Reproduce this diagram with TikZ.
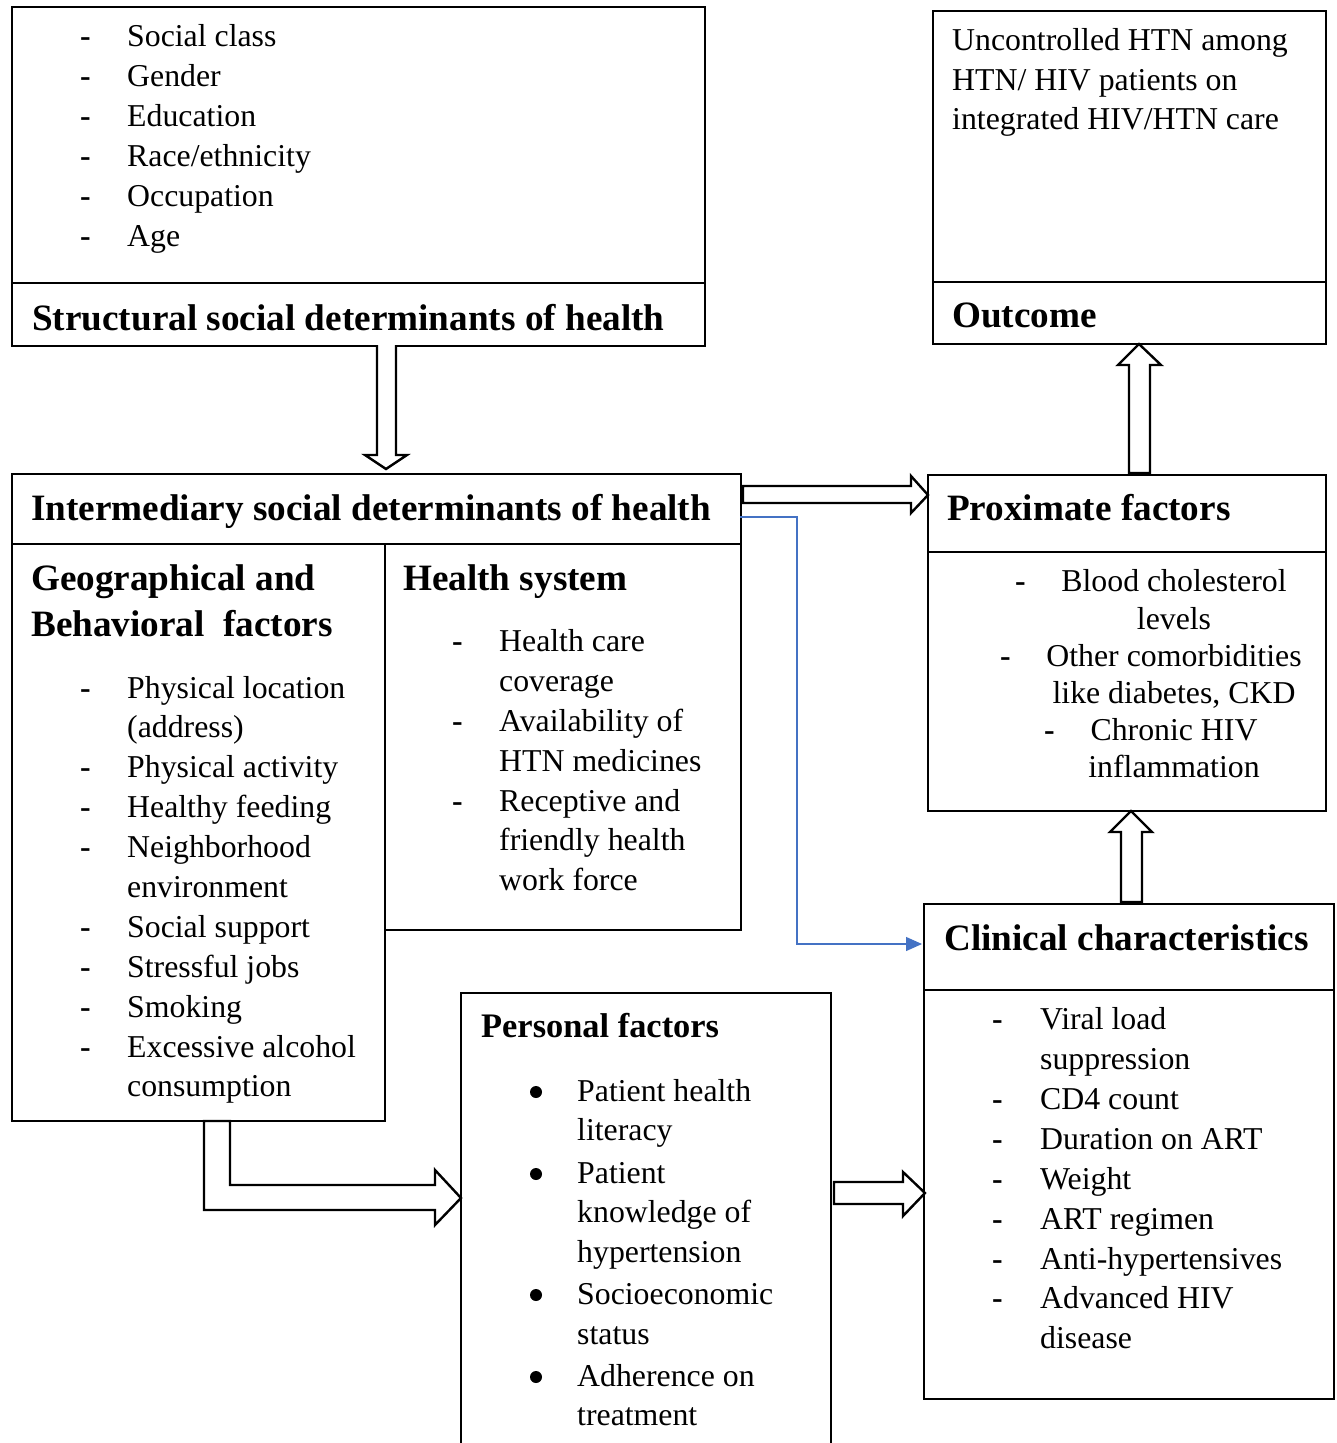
\documentclass[tikz,border=0pt]{standalone}
\usepackage{fontspec}
\setmainfont{Liberation Serif}
\usetikzlibrary{arrows.meta}
\newcommand\bodyf{\fontsize{31.8}{40}\selectfont}
\newcommand\hdf{\fontsize{37.2}{44}\selectfont\bfseries}
\newcommand\hdsf{\fontsize{34.4}{40}\selectfont\bfseries}
\newcommand\dashmark{\textbf{-}}
\definecolor{conblue}{HTML}{4472C4}
\begin{document}
\begin{tikzpicture}[x=1pt,y=-1pt,
  boxsty/.style={draw, line width=1.5pt, rectangle, inner sep=0pt, anchor=north west},
  itm/.style={anchor=base west, inner sep=0pt, font=\bodyf},
  itmc/.style={anchor=base, inner sep=0pt, font=\bodyf},
  hdr/.style={anchor=base west, inner sep=0pt, font=\hdf},
  fatarrow/.style={draw, line width=2.4pt, line join=miter, fill=white},
  divider/.style={line width=1.5pt}
]
\useasboundingbox (0,0) rectangle (1337,1443);

% ---------- boxes ----------
\node[boxsty, minimum width=693pt, minimum height=339pt] (struct) at (11,6) {};
\draw[divider, line width=2pt] (11,283) -- (704,283);
\node[boxsty, minimum width=393pt, minimum height=333pt] (outc) at (932,10) {};
\draw[divider] (932,282) -- (1325,282);
\node[boxsty, minimum width=729pt, minimum height=70pt] (inter) at (11,473) {};
\node[boxsty, minimum width=373pt, minimum height=577pt] (geo) at (11,543) {};
\node[boxsty, minimum width=356pt, minimum height=386pt] (hs) at (384,543) {};
\node[boxsty, minimum width=398pt, minimum height=336pt] (prox) at (927,474) {};
\draw[divider] (927,552) -- (1325,552);
\node[boxsty, minimum width=410pt, minimum height=495pt] (clin) at (923,903) {};
\draw[divider] (923,990) -- (1333,990);
\draw[line width=1.5pt] (461,1443) -- (461,993) -- (831,993) -- (831,1443);
\coordinate (pers) at (646,993);

% ---------- headers ----------
\node[hdr] (hstruct) at (32,330) {Structural social determinants of health};
\node[hdr] (houtc) at (952,327) {Outcome};
\node[hdr] (hinter) at (31,520) {Intermediary social determinants of health};
\node[hdr] (hgeo1) at (31,590) {Geographical and};
\node[hdr] (hgeo2) at (31,636) {Behavioral\ \ factors};
\node[hdr] (hhs) at (403,590) {Health system};
\node[hdr] (hprox) at (947,520) {Proximate factors};
\node[hdr] (hclin) at (944,950) {Clinical characteristics};
\node[anchor=base west, inner sep=0pt, font=\hdsf] (hpers) at (481,1037) {Personal factors};

% ---------- outcome text ----------
\node[itm] (o1) at (952,50) {Uncontrolled HTN among};
\node[itm] (o2) at (952,90) {HTN/ HIV patients on};
\node[itm] (o3) at (952,129) {integrated HIV/HTN care};

% ---------- structural items ----------
\foreach \t [count=\i] in {Social class, Gender, Education, Race/ethnicity, Occupation, Age}{
  \node[itm] (sd\i) at (80,6+40*\i) {\dashmark};
  \node[itm] (s\i) at (127,6+40*\i) {\t};
}

% ---------- geographical items ----------
\foreach \y/\t/\d [count=\i] in {698/Physical location/1, 737/(address)/0, 777/Physical activity/1,
  817/Healthy feeding/1, 857/Neighborhood/1, 897/environment/0, 937/Social support/1,
  977/Stressful jobs/1, 1017/Smoking/1, 1057/Excessive alcohol/1, 1096/consumption/0}{
  \node[itm] (g\i) at (127,\y) {\t};
  \ifnum\d=1 \node[itm] (gd\i) at (80,\y) {\dashmark}; \fi
}

% ---------- health system items ----------
\foreach \y/\t/\d [count=\i] in {651/Health care/1, 691/coverage/0, 731/Availability of/1,
  771/HTN medicines/0, 811/Receptive and/1, 850/friendly health/0, 890/work force/0}{
  \node[itm] (h\i) at (499,\y) {\t};
  \ifnum\d=1 \node[itm] (hd\i) at (452,\y) {\dashmark}; \fi
}

% ---------- proximate items ----------
\foreach \y/\t/\d [count=\i] in {591/Blood cholesterol/1015, 629/levels/0, 666/Other comorbidities/1000,
  703/{like diabetes, CKD}/0, 740/Chronic HIV/1044, 777/inflammation/0}{
  \node[itmc] (p\i) at (1174,\y) {\t};
  \ifnum\d>0 \node[itm] (pd\i) at (\d,\y) {\dashmark}; \fi
}

% ---------- clinical items ----------
\foreach \y/\t/\d [count=\i] in {1029/Viral load/1, 1069/suppression/0, 1109/CD4 count/1,
  1149/Duration on ART/1, 1189/Weight/1, 1229/ART regimen/1, 1269/Anti-hypertensives/1,
  1308/Advanced HIV/1, 1348/disease/0}{
  \node[itm] (c\i) at (1040,\y) {\t};
  \ifnum\d=1 \node[itm] (cd\i) at (992,\y) {\dashmark}; \fi
}

% ---------- personal items ----------
\foreach \y/\t/\d [count=\i] in {1101/Patient health/1, 1140/literacy/0, 1183/Patient/1,
  1222/knowledge of/0, 1262/hypertension/0, 1304/Socioeconomic/1, 1344/status/0,
  1386/Adherence on/1, 1425/treatment/0}{
  \node[itm] (q\i) at (577,\y) {\t};
  \ifnum\d=1 \fill (536,\y-9) circle (6pt); \fi
}

% ---------- fat arrows ----------
% structural -> intermediary
\draw[fatarrow] (377,345) -- (377,455) -- (365,455) -- (386,469) -- (407,455) -- (396,455) -- (396,345);
% intermediary -> proximate
\draw[fatarrow] (743,486) -- (911,486) -- (911,476) -- (928,495) -- (911,513) -- (911,503) -- (743,503) -- cycle;
% proximate -> outcome
\draw[fatarrow] (1129,473) -- (1129,365) -- (1118,365) -- (1139,344) -- (1161,365) -- (1150,365) -- (1150,473) -- cycle;
% clinical -> proximate
\draw[fatarrow] (1121,902) -- (1121,832) -- (1110,832) -- (1131,811) -- (1152,832) -- (1142,832) -- (1142,902) -- cycle;
% geographical -> personal (bent)
\draw[fatarrow] (204,1121) -- (204,1210) -- (435,1210) -- (435,1225) -- (461,1198) -- (435,1170) -- (435,1185) -- (230,1185) -- (230,1121) -- cycle;
% personal -> clinical
\draw[fatarrow] (834,1182) -- (903,1182) -- (903,1172) -- (925,1193) -- (903,1216) -- (903,1204) -- (834,1204) -- cycle;

% ---------- blue connector ----------
\coordinate (bstart) at (740,517);
\coordinate (bend) at (922,944);
\draw[conblue, line width=1.2pt, -{Triangle[length=16pt,width=14pt]}] (bstart) -- (797,517) -- (797,944) -- (bend);
\end{tikzpicture}
\end{document}
